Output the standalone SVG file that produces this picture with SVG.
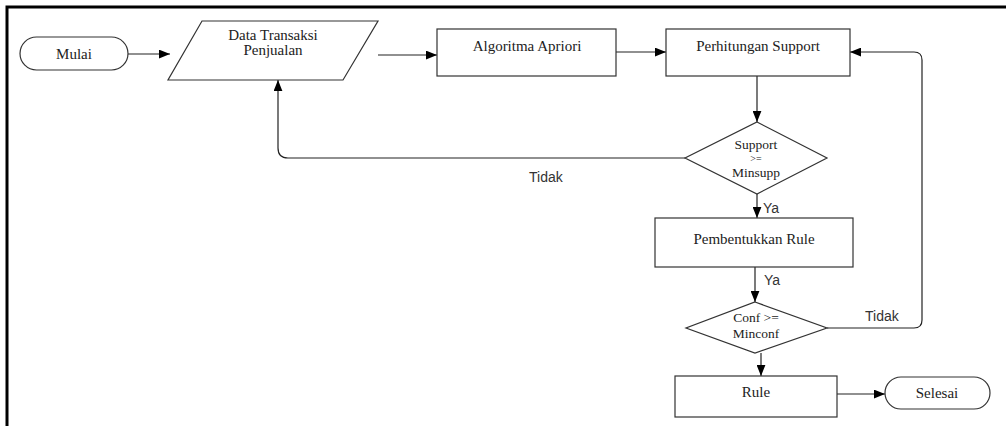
<svg xmlns="http://www.w3.org/2000/svg" width="1006" height="426" viewBox="0 0 1006 426">
<defs>
<marker id="ah" viewBox="0 0 10 8" refX="10" refY="4" markerWidth="11" markerHeight="9" markerUnits="userSpaceOnUse" orient="auto">
<path d="M0,0 L10,4 L0,8 z" fill="#000"/>
</marker>
<style>
.shape{fill:#fff;stroke:#333;stroke-width:1.2}
.t{font-family:"Liberation Serif","Times New Roman",serif;font-size:15px;fill:#222;text-anchor:middle}
.td{font-family:"Liberation Serif","Times New Roman",serif;font-size:13.5px;fill:#222;text-anchor:middle}
.ts{font-family:"Liberation Serif","Times New Roman",serif;font-size:10px;fill:#222;text-anchor:middle}
.lbl{font-family:"Liberation Sans",Arial,sans-serif;font-size:14px;fill:#333}
.c{fill:none;stroke:#222;stroke-width:1.2}
.frame{fill:none;stroke:#000;stroke-width:3}
</style>
</defs>
<rect x="0" y="0" width="1006" height="426" fill="#fff"/>
<path class="frame" d="M7,426 L7,7 L1006,7"/>

<g id="connectors">
<path class="c" d="M128,54 L170,54" marker-end="url(#ah)"/>
<path class="c" d="M378,55 L437,55" marker-end="url(#ah)"/>
<path class="c" d="M616,52 L666,52" marker-end="url(#ah)"/>
<path class="c" d="M757,76 L757,122" marker-end="url(#ah)"/>
<path class="c" d="M685,158 L288,158 Q278,158 278,148 L278,80" marker-end="url(#ah)"/>
<text class="lbl" x="529" y="182">Tidak</text>
<path class="c" d="M757,194 L757,218" marker-end="url(#ah)"/>
<text class="lbl" x="763" y="213">Ya</text>
<path class="c" d="M755,267 L755,302" marker-end="url(#ah)"/>
<text class="lbl" x="764" y="285">Ya</text>
<path class="c" d="M827,328 L914,328 Q922,328 922,320 L922,60 Q922,52 914,52 L850,52" marker-end="url(#ah)"/>
<text class="lbl" x="865" y="321">Tidak</text>
<path class="c" d="M761,353 L761,376" marker-end="url(#ah)"/>
<path class="c" d="M837,394 L885,394" marker-end="url(#ah)"/>
</g>

<g id="mulai">
<rect class="shape" x="20" y="37" width="108" height="33" rx="16.5"/>
<text class="t" x="74" y="59">Mulai</text>
</g>

<g id="data-transaksi">
<polygon class="shape" points="202,21 378,21 343,80 168,80"/>
<text class="t" x="273" y="40">Data Transaksi</text>
<text class="t" x="273" y="55">Penjualan</text>
</g>

<g id="algoritma-apriori">
<rect class="shape" x="437" y="29" width="179" height="47"/>
<text class="t" x="527" y="51">Algoritma Apriori</text>
</g>

<g id="perhitungan-support">
<rect class="shape" x="666" y="29" width="184" height="47"/>
<text class="t" x="758" y="51">Perhitungan Support</text>
</g>

<g id="support-decision">
<polygon class="shape" points="757,122 827,158 757,194 685,158"/>
<text class="td" x="756" y="149">Support</text>
<text class="ts" x="756" y="162">&gt;=</text>
<text class="td" x="756" y="177">Minsupp</text>
</g>

<g id="pembentukkan-rule">
<rect class="shape" x="655" y="218" width="198" height="49"/>
<text class="t" x="754" y="244">Pembentukkan Rule</text>
</g>

<g id="conf-decision">
<polygon class="shape" points="755,302 827,328 755,353 686,328"/>
<text class="td" x="756" y="322">Conf &gt;=</text>
<text class="td" x="756" y="338">Minconf</text>
</g>

<g id="rule">
<rect class="shape" x="675" y="376" width="162" height="41"/>
<text class="t" x="756" y="397">Rule</text>
</g>

<g id="selesai">
<rect class="shape" x="885" y="377" width="105" height="32" rx="16"/>
<text class="t" x="937" y="398">Selesai</text>
</g>
</svg>
